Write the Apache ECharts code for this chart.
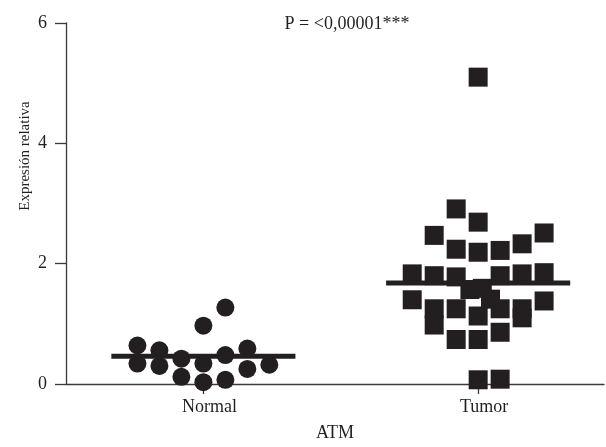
<!DOCTYPE html>
<html>
<head>
<meta charset="utf-8">
<script src="https://cdn.jsdelivr.net/npm/echarts@6/dist/echarts.min.js"></script>
<style>
	html,body{margin:0;padding:0;background:#fff;}
	#main{width:606px;height:447px;}
</style>
</head>
<body>
<div id="main"></div>
<script>
	// groups on the x axis (value 1 and 2)
	var groups = ['Normal', 'Tumor'];
	var yTicks = [0, 2, 4, 6];
	var pLabel = 'P = <0,00001***';

	// Normal: horizontal scatter offset and relative expression
	var normalOffset = [-0.24, -0.24, -0.16, -0.16, -0.08, -0.08, 0, 0, 0, 0.08, 0.08, 0.08, 0.16, 0.16, 0.24];
	var normalValue = [0.64, 0.34, 0.56, 0.30, 0.42, 0.12, 0.97, 0.34, 0.03, 1.27, 0.48, 0.07, 0.59, 0.25, 0.32];

	// Tumor
	var tumorOffset = [0, -0.08, 0, -0.16, 0.24, -0.08, 0, 0.08, 0.16, -0.24, -0.16, -0.08, 0.08, 0.16, 0.24,
		-0.24, -0.16, -0.16, -0.08, 0, 0.08, 0.16, 0.16, 0.24, -0.08, 0, 0.08, -0.03, 0.015, 0.045, 0, 0.08];
	var tumorValue = [5.10, 2.91, 2.69, 2.47, 2.51, 2.24, 2.19, 2.22, 2.33, 1.83, 1.80, 1.78, 1.80, 1.83, 1.85,
		1.40, 1.25, 0.98, 1.25, 1.13, 1.25, 1.25, 1.10, 1.38, 0.74, 0.74, 0.86, 1.57, 1.59, 1.41, 0.07, 0.08];

	// mean lines
	var meanValue = [0.46, 1.68];

	var ink = '#231f20';
	var axisInk = '#3a3a3a';
	var font = 'Liberation Serif';
	var halfLine = 0.335;

	function points(pos, offs, vals){
		var out = [];
		for(var i = 0; i < vals.length; i++){
			out.push([pos + offs[i], vals[i]]);
		}
		return out;
	}
	function meanLine(pos, m){
		return [[pos - halfLine, m], [pos + halfLine, m]];
	}

	var chart = echarts.init(document.getElementById('main'));
	var option = {
		animation: false,
		backgroundColor: '#fff',
		title: {
			text: pLabel,
			left: 342,
			top: 10,
			textAlign: 'center',
			textStyle: {fontFamily: font, fontSize: 18, fontWeight: 'normal', color: ink}
		},
		graphic: [{
			type: 'text',
			x: 25,
			y: 156,
			rotation: Math.PI / 2,
			style: {
				text: 'Expresión relativa',
				font: '15px "Liberation Serif"',
				fill: ink,
				textAlign: 'center',
				textVerticalAlign: 'middle'
			}
		}],
		grid: {left: 66, right: 2, top: 23, bottom: 58},
		xAxis: {
			type: 'value',
			min: 0.5,
			max: 2.458,
			name: 'ATM',
			nameLocation: 'middle',
			nameGap: 40,
			nameTextStyle: {fontFamily: font, fontSize: 18, color: ink},
			splitLine: {show: false},
			axisLine: {show: true, lineStyle: {color: axisInk, width: 1.3}},
			axisTick: {show: true, length: 10, customValues: [1, 2], lineStyle: {color: axisInk, width: 1.3}},
			axisLabel: {
				customValues: [1, 2],
				margin: 14,
				padding: [0, 0, 0, 12],
				fontFamily: font, fontSize: 18, color: ink,
				formatter: function(v){ return groups[Math.round(v) - 1] || ''; }
			}
		},
		yAxis: {
			type: 'value',
			min: yTicks[0],
			max: yTicks[yTicks.length - 1],
			interval: 2,
			splitLine: {show: false},
			axisLine: {show: true, lineStyle: {color: axisInk, width: 1.3}},
			axisTick: {show: true, length: 11, lineStyle: {color: axisInk, width: 1.3}},
			axisLabel: {margin: 19, fontFamily: font, fontSize: 18, color: ink}
		},
		series: [
			{
				name: groups[0],
				type: 'scatter',
				symbol: 'circle',
				symbolSize: 18,
				itemStyle: {color: ink, opacity: 1},
				data: points(1, normalOffset, normalValue)
			},
			{
				name: groups[1],
				type: 'scatter',
				symbol: 'rect',
				symbolSize: 19,
				itemStyle: {color: ink, opacity: 1},
				data: points(2, tumorOffset, tumorValue)
			},
			{
				type: 'line',
				symbol: 'none',
				lineStyle: {color: ink, width: 5},
				data: meanLine(1, meanValue[0]),
				z: 3
			},
			{
				type: 'line',
				symbol: 'none',
				lineStyle: {color: ink, width: 5},
				data: meanLine(2, meanValue[1]),
				z: 3
			}
		]
	};
	chart.setOption(option);
</script>
</body>
</html>
